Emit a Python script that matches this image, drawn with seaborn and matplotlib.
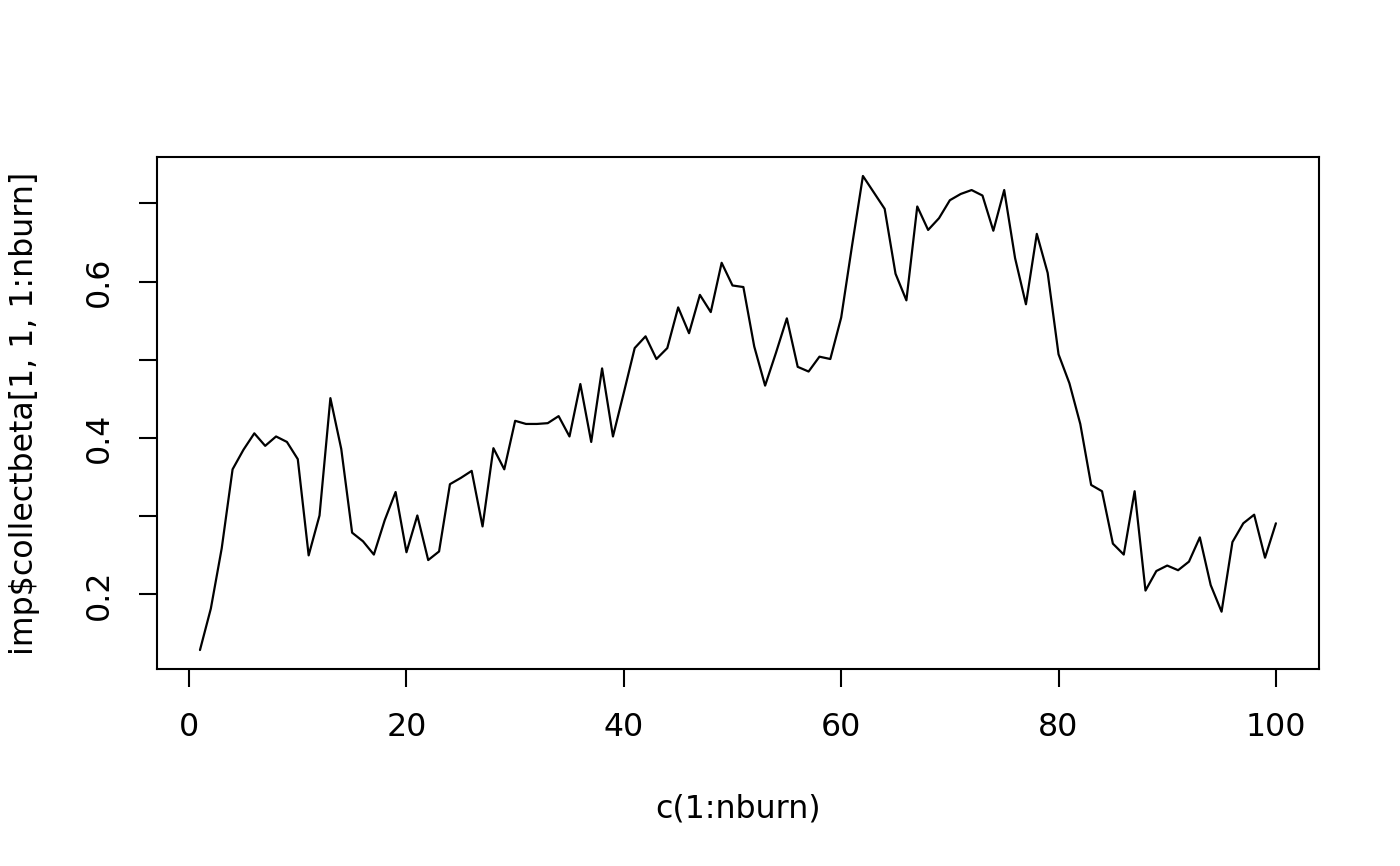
import numpy as np
import pandas as pd
import matplotlib
matplotlib.use("Agg")
import matplotlib.pyplot as plt
import seaborn as sns

iteration = list(range(1, 101))
beta = [
    0.129, 0.182, 0.259, 0.360, 0.385, 0.406, 0.390, 0.402, 0.395, 0.373,
    0.250, 0.301, 0.451, 0.386, 0.279, 0.268, 0.251, 0.295, 0.331, 0.254,
    0.301, 0.244, 0.255, 0.341, 0.349, 0.358, 0.287, 0.387, 0.360, 0.422,
    0.418, 0.418, 0.419, 0.428, 0.402, 0.469, 0.395, 0.489, 0.402, 0.458,
    0.515, 0.530, 0.501, 0.515, 0.567, 0.534, 0.583, 0.561, 0.624, 0.595,
    0.593, 0.517, 0.467, 0.509, 0.553, 0.491, 0.485, 0.504, 0.501, 0.554,
    0.646, 0.735, 0.714, 0.693, 0.610, 0.576, 0.696, 0.666, 0.681, 0.704,
    0.712, 0.717, 0.710, 0.665, 0.717, 0.630, 0.571, 0.661, 0.611, 0.507,
    0.470, 0.418, 0.340, 0.332, 0.265, 0.251, 0.332, 0.205, 0.230, 0.237,
    0.231, 0.242, 0.273, 0.212, 0.178, 0.267, 0.291, 0.302, 0.247, 0.291,
]
x_ticks = [0, 20, 40, 60, 80, 100]
y_ticks = [0.2, 0.3, 0.4, 0.5, 0.6, 0.7]
y_tick_labels = ["0.2", "", "0.4", "", "0.6", ""]

sns.set_style("white")
plt.rcParams["font.family"] = ["DejaVu Sans"]
plt.rcParams["text.color"] = "black"
plt.rcParams["axes.labelcolor"] = "black"

df = pd.DataFrame({"iter": iteration, "beta": beta})

fig = plt.figure(figsize=(14, 8.66), dpi=100)
ax = fig.add_axes([0.1121, 0.2275, 0.83, 0.5912])

sns.lineplot(data=df, x="iter", y="beta", ax=ax, color="black", linewidth=1.6)

# R-style 4% padding on both axes
def padded(vals):
    lo, hi = min(vals), max(vals)
    d = (hi - lo) * 0.04
    return lo - d, hi + d

ax.set_xlim(*padded(iteration))
ax.set_ylim(*padded(beta))

ax.set_xticks(x_ticks)
ax.set_xticklabels([str(t) for t in x_ticks])
ax.set_yticks(y_ticks)
ax.set_yticklabels(y_tick_labels, rotation=90, va="center")

for s in ax.spines.values():
    s.set_visible(True)
    s.set_color("black")
    s.set_linewidth(1.5)

ax.tick_params(axis="both", direction="out", length=13, width=1.5,
               colors="black", labelsize=22.8, left=True, bottom=True)
ax.tick_params(axis="x", pad=18)
ax.tick_params(axis="y", pad=17)

ax.set_xlabel("c(1:nburn)", fontsize=22.8, labelpad=36)
ax.set_ylabel("imp$collectbeta[1, 1, 1:nburn]", fontsize=22.8, labelpad=32)
ax.grid(False)

fig.savefig("out.png", dpi=100)
